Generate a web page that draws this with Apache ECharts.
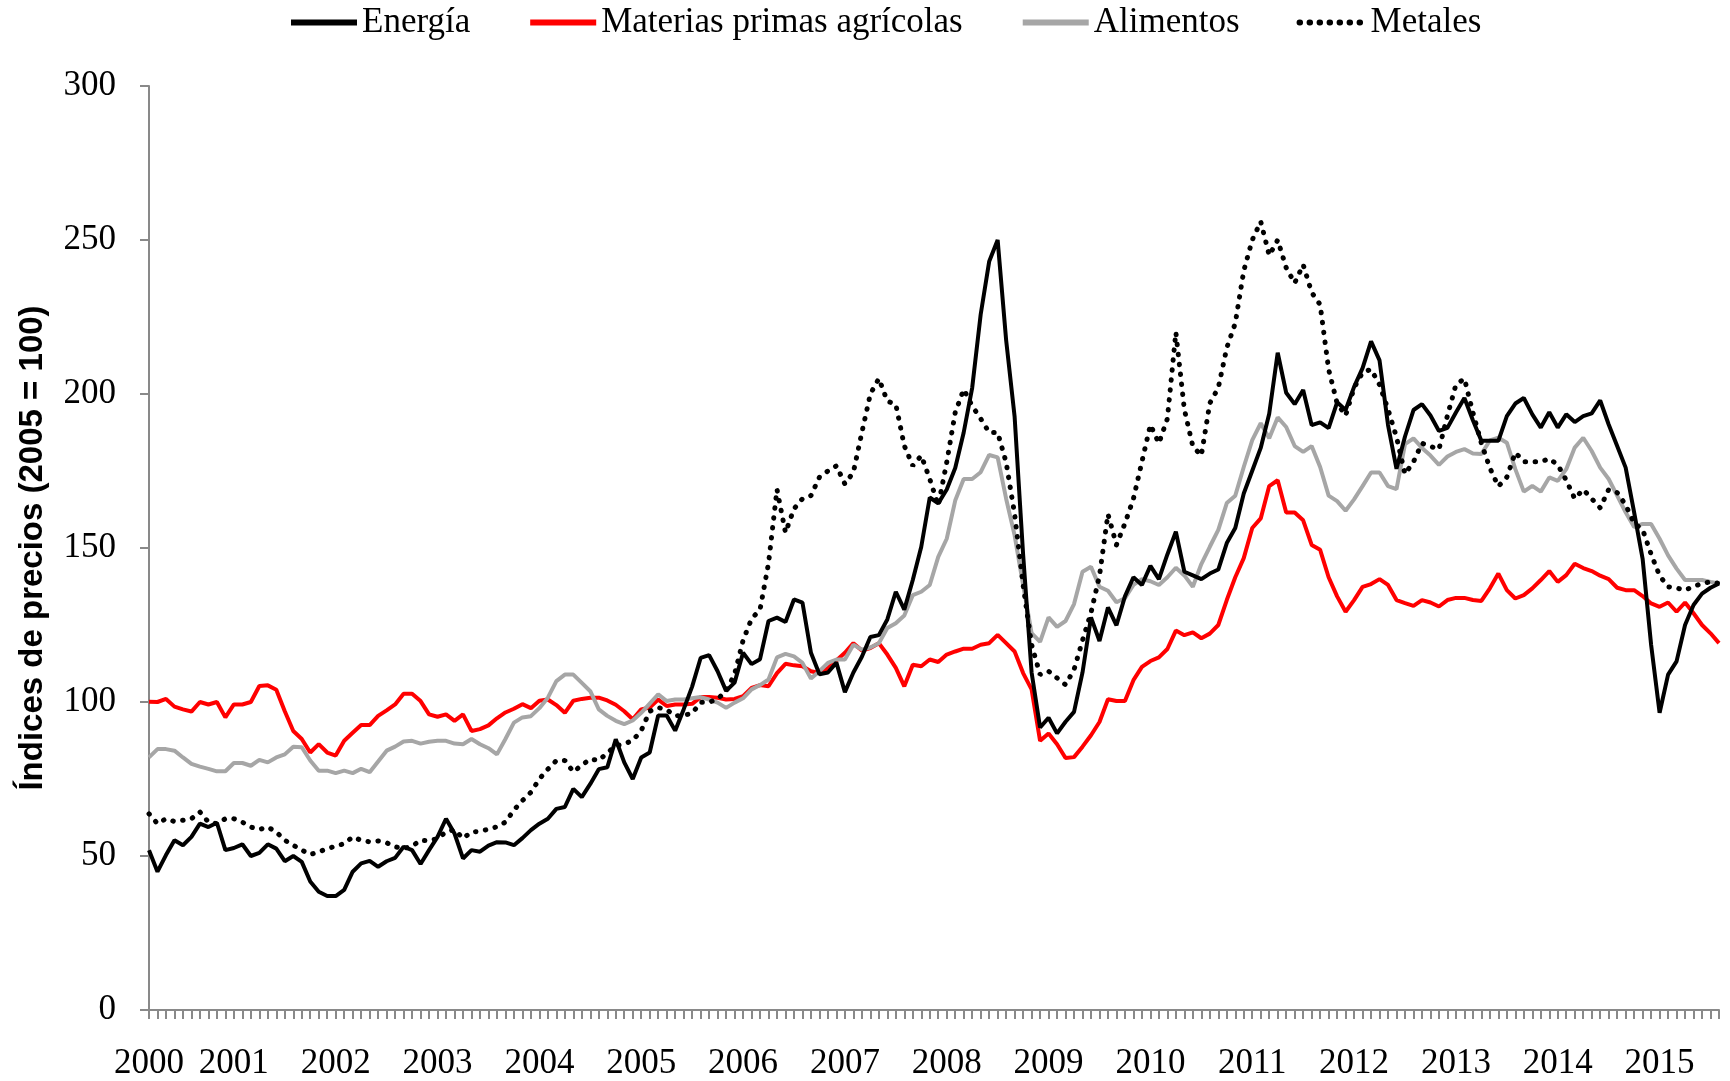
<!DOCTYPE html>
<html>
<head>
<meta charset="utf-8">
<title>Índices de precios</title>
<script src="https://cdn.jsdelivr.net/npm/echarts@6.0.0/dist/echarts.min.js"></script>
<style>
  html, body { margin: 0; padding: 0; background: #fff; }
  #chart { width: 1730px; height: 1081px; }
</style>
</head>
<body>
<div id="chart"></div>
<script>
// monthly series, March 2000 .. August 2015 (index 2005 = 100)
const firstYear = 2000
const firstMonth = 3
const monthCount = 186

const energia = [
  51.9, 44.9, 50.3, 55.1, 53.5, 56.2, 60.5, 59.4, 60.8, 51.9,
  52.6, 53.8, 50, 51, 53.8, 52.4, 48.3, 50, 48.1, 41.7,
  38.4, 37, 37, 39, 44.9, 47.6, 48.4, 46.5, 48.3, 49.4,
  53, 51.9, 47.4, 51.9, 56.2, 62.1, 57.3, 49.2, 51.9, 51.4,
  53.4, 54.5, 54.4, 53.5, 55.8, 58.4, 60.5, 62.1, 65.3, 65.9,
  71.8, 69.1, 73.4, 78.2, 78.8, 87.9, 80.4, 75, 82, 83.6,
  95.6, 95.6, 90.7, 97.6, 105, 114.3, 115.2, 110, 103.6, 106.3,
  116, 112.3, 113.9, 126.3, 127.4, 126, 133.3, 132.3, 116, 109,
  109.6, 112.8, 103.2, 109.6, 114.7, 121.1, 121.7, 126.8, 135.8, 130,
  139.6, 150.4, 166.4, 164.5, 169, 176, 187.5, 202, 225.8, 243,
  250, 217.5, 192.6, 147.9, 109.6, 91.7, 94.9, 89.8, 93.6, 96.8,
  109.6, 127.5, 119.8, 130.7, 124.9, 134.3, 140.5, 138, 144.2, 139.9,
  147.9, 155.3, 142.3, 141.1, 139.9, 141.7, 143, 151.6, 156.5, 167.7,
  175.1, 182.5, 193.6, 213.4, 200.4, 196.7, 201.3, 189.9, 190.8, 188.9,
  197.3, 194.8, 202.3, 208.4, 217.1, 210.9, 189.9, 175.7, 186.2, 194.8,
  196.7, 193, 188, 189, 194, 198.7, 191.5, 184.8, 184.8, 184.8,
  192.8, 196.9, 198.7, 193.4, 189.1, 194.1, 189.1, 193.4, 190.9, 192.8,
  193.7, 197.9, 190.1, 183.1, 176.1, 161.6, 146.5, 118.6, 96.5, 108.9,
  113.2, 125, 131.5, 135.2, 137.1, 138.5
]

const materiasPrimas = [
  100.1, 100, 101, 98.5, 97.6, 96.9, 100, 99.2, 100, 95,
  99.2, 99.2, 100, 105.2, 105.4, 104, 97, 90.6, 88, 83.6,
  86.3, 83.6, 82.6, 87.4, 90, 92.5, 92.5, 95.5, 97.3, 99.2,
  102.7, 102.7, 100.3, 96, 95.2, 96, 93.9, 96, 90.6, 91.2,
  92.4, 94.7, 96.6, 97.8, 99.3, 98, 100.4, 100.8, 99, 96.5,
  100.4, 101, 101.4, 101.4, 100.5, 99.1, 97, 94.4, 97.6, 98.2,
  100.8, 98.7, 99.2, 99.2, 99.4, 101.6, 101.6, 101.4, 100.8, 101,
  101.9, 104.6, 105.5, 105.1, 109.4, 112.4, 111.9, 111.6, 110, 109.4,
  111, 113.5, 116, 119.1, 116.7, 117.5, 119.1, 115.4, 111.1, 105.1,
  112.1, 111.6, 113.8, 113, 115.4, 116.4, 117.3, 117.3, 118.6, 119.1,
  121.8, 119.1, 116.4, 109.4, 104.1, 87.4, 89.8, 86.3, 81.8, 82.1,
  85.5, 89.2, 93.5, 100.9, 100.3, 100.3, 107.1, 111.4, 113.3, 114.5,
  117.2, 123.2, 121.7, 122.6, 120.7, 122.2, 125, 133.1, 140.5, 146.7,
  156.5, 159.6, 170.1, 172, 161.5, 161.5, 159, 151, 149.4, 140.5,
  134.3, 129.3, 133.1, 137.4, 138.3, 139.9, 138, 133.1, 132.1, 131.2,
  133.1, 132.3, 131, 133.1, 133.8, 133.8, 133.1, 132.8, 136.9, 141.7,
  136.3, 133.6, 134.7, 136.9, 139.6, 142.5, 139, 141.2, 144.9, 143.5,
  142.5, 141, 139.9, 137.1, 136.3, 136.3, 134.4, 132, 130.9, 132.3,
  129.3, 132.3, 128.8, 125, 122.3, 119.1
]

const alimentos = [
  82, 84.7, 84.7, 84.2, 82, 79.9, 79, 78.3, 77.5, 77.5,
  80.2, 80.2, 79.3, 81.2, 80.4, 82, 83, 85.5, 85.3, 81,
  77.7, 77.7, 76.9, 77.7, 76.9, 78.3, 77.2, 80.7, 84.2, 85.5,
  87.2, 87.4, 86.5, 87.1, 87.4, 87.4, 86.5, 86.3, 88, 86.3,
  85, 83, 88, 93.3, 95, 95.4, 98, 101.4, 106.8, 108.9,
  108.9, 106.2, 103.5, 97.6, 95.5, 93.9, 92.8, 94, 96.5, 99.5,
  102.5, 100.3, 100.8, 100.8, 101.2, 101.6, 100.8, 99.8, 98.1, 99.8,
  101.2, 104.1, 105.5, 107.3, 114.5, 115.6, 114.8, 112.7, 107.6, 110,
  112.7, 113.8, 113.8, 118.6, 117, 117.7, 119.1, 124, 125.6, 128.1,
  134.7, 135.8, 138, 147.1, 153, 165.4, 172.4, 172.4, 174.6, 180.2,
  179.4, 166, 154.1, 138, 122.4, 119.5, 127.5, 124.4, 126.3, 131.8,
  142.3, 143.9, 137.4, 136.1, 132.4, 133.7, 138, 139.9, 139.2, 138,
  140.5, 143.6, 141.1, 137.4, 144.8, 150.4, 155.9, 164.6, 167, 176.3,
  185, 190.5, 185.6, 192.4, 189.3, 183.1, 181.2, 183.1, 176.3, 167,
  165.2, 162.1, 165.8, 170.1, 174.5, 174.5, 170.1, 169.1, 183.7, 185.6,
  182.5, 180, 177, 179.7, 181.2, 182.1, 180.7, 180.5, 184.9, 185.8,
  184.2, 175.6, 168.3, 170.2, 168.3, 172.9, 171.8, 175.6, 182.6, 185.8,
  181.5, 176.1, 172.4, 167, 161.6, 156.8, 157.8, 157.8, 153, 147.6,
  143.3, 139.6, 139.6, 139.6, 139, 138.5
]

const metales = [
  63.7, 60.5, 62.1, 61.2, 61.6, 62.1, 64.3, 61, 60.5, 62.1,
  62.1, 61, 59.4, 58.6, 59.4, 57.8, 55.1, 53.5, 51.9, 50.5,
  51.3, 52.4, 53.2, 54, 56.2, 55.1, 54.6, 54.9, 54.3, 53,
  52.4, 53.2, 55.1, 54.9, 55.7, 57.8, 58.6, 55.7, 57.8, 58,
  58.7, 59.5, 61, 64.9, 68, 70.7, 75, 78.2, 81, 81,
  77.3, 79.5, 81.5, 81, 83.5, 85.8, 86.4, 87.5, 90.7, 97,
  98.2, 97.5, 95.5, 95.7, 96.3, 99.9, 99.9, 101, 103.5, 109,
  120, 127, 130, 145, 169, 155, 162.7, 166, 167, 173,
  175, 176.7, 170.8, 174.6, 187.5, 200, 205, 197.7, 196.6, 183.2,
  176.7, 180, 172.4, 163.8, 177.8, 194, 201.5, 196.1, 192, 187.5,
  187.5, 177.8, 161, 138, 118.6, 108.9, 110, 107.8, 105.6, 110.5,
  120, 129, 141, 161, 151, 158, 166, 178, 190, 184,
  192, 220, 195, 183, 180, 197, 202, 215, 223, 240,
  250, 256, 245, 250, 241, 236, 242, 233, 229, 208,
  197, 193, 202, 207, 208, 203, 195, 186, 174, 178,
  184, 183, 182, 193, 203, 205, 194, 184, 176, 170,
  173, 181, 178, 178, 178, 179, 177, 172, 166, 169,
  166, 163, 169, 168, 164, 158, 156, 148, 141, 137.4,
  137, 136.3, 137.5, 138.5, 139, 138.5
]

const yTicks = [0, 50, 100, 150, 200, 250, 300]

// category labels "YYYY-MM"
const months = []
for (let i = 0; i < monthCount; i++) {
  const m0 = firstMonth - 1 + i
  const y = firstYear + Math.floor(m0 / 12)
  const m = (m0 % 12) + 1
  months.push(y + '-' + String(m).padStart(2, '0'))
}

const serif = 'Liberation Serif'
const axisGray = '#898989'

const chart = echarts.init(document.getElementById('chart'), null, { renderer: 'canvas' })

const option = {
  animation: false,
  backgroundColor: '#fff',
  legend: {
    top: 0,
    left: 283,
    itemWidth: 66,
    itemHeight: 14,
    itemGap: 57,
    itemStyle: { opacity: 0 }, // line only, no marker in the key
    lineStyle: { width: 6 },
    textStyle: { fontFamily: serif, fontSize: 35, color: '#000' },
    data: ['Energía', 'Materias primas agrícolas', 'Alimentos', 'Metales']
  },
  grid: {
    left: 149,
    right: 11,
    top: 86,
    bottom: 67
  },
  xAxis: {
    type: 'category',
    data: months,
    boundaryGap: false,
    axisLine: { lineStyle: { color: axisGray, width: 2 } },
    axisTick: { interval: 0, length: 9, lineStyle: { color: axisGray, width: 2 } },
    axisLabel: {
      interval: (index, value) => index === 0 || value.endsWith('-01'),
      formatter: (value) => value.slice(0, 4),
      fontFamily: serif,
      fontSize: 35,
      color: '#000',
      margin: 36
    },
    splitLine: { show: false }
  },
  yAxis: {
    type: 'value',
    min: yTicks[0],
    max: yTicks[yTicks.length - 1],
    interval: 50,
    name: 'Índices de precios (2005 = 100)',
    nameLocation: 'middle',
    nameGap: 100,
    nameTextStyle: {
      fontFamily: 'Liberation Sans',
      fontWeight: 'bold',
      fontSize: 33,
      color: '#000'
    },
    axisLine: { show: true, lineStyle: { color: axisGray, width: 2 } },
    axisTick: { show: true, length: 9, lineStyle: { color: axisGray, width: 2 } },
    axisLabel: { fontFamily: serif, fontSize: 35, color: '#000', margin: 33 },
    splitLine: { show: false }
  },
  series: [
    {
      name: 'Energía',
      type: 'line',
      data: energia,
      showSymbol: false,
      symbol: 'none',
      lineStyle: { color: '#000000', width: 4 },
      itemStyle: { color: '#000000' },
      z: 4
    },
    {
      name: 'Materias primas agrícolas',
      type: 'line',
      data: materiasPrimas,
      showSymbol: false,
      symbol: 'none',
      lineStyle: { color: '#ff0000', width: 4 },
      itemStyle: { color: '#ff0000' },
      z: 2
    },
    {
      name: 'Alimentos',
      type: 'line',
      data: alimentos,
      showSymbol: false,
      symbol: 'none',
      lineStyle: { color: '#a6a6a6', width: 4 },
      itemStyle: { color: '#a6a6a6' },
      z: 3
    },
    {
      name: 'Metales',
      type: 'line',
      data: metales,
      showSymbol: false,
      symbol: 'none',
      lineStyle: { color: '#000000', width: 5, type: [0.5, 9.5], cap: 'round' },
      itemStyle: { color: '#000000' },
      z: 5
    }
  ]
}

chart.setOption(option)
</script>
</body>
</html>
